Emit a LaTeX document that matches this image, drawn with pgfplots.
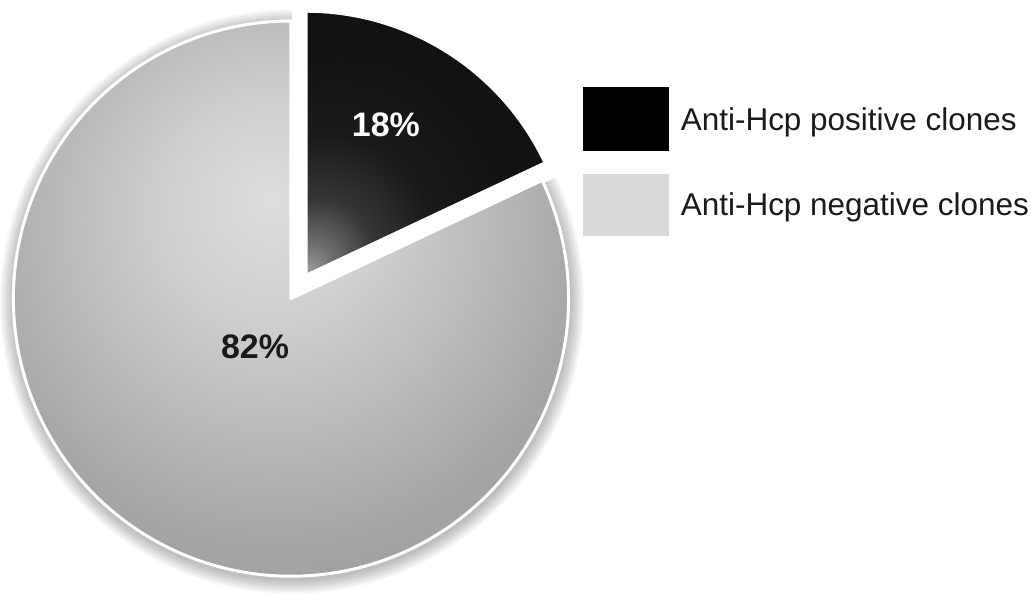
\documentclass[border=0pt]{standalone}
\usepackage{pgfplots}
\pgfplotsset{compat=1.18}
\usepackage{pgfplotstable}
\usepackage{fontspec}
\setmainfont{Liberation Sans}

% shares of screened clones (percent)
\pgfplotstableread{
group share
positive 18
negative 82
}\clonetable
\pgfplotstablegetelem{0}{share}\of\clonetable \let\shpos\pgfplotsretval
\pgfplotstablegetelem{1}{share}\of\clonetable \let\shneg\pgfplotsretval

% slice angles (counter-clockwise, degrees)
\pgfmathsetmacro\splitang{90-3.6*\shpos}
\pgfmathsetmacro\negend{90+3.6*\shneg}

% soft grey light for the large slice, dark glow at the tip of the small one
\pgfdeclareradialshading{negshade}{\pgfpoint{-2bp}{9bp}}{%
  rgb(0bp)=(0.87,0.87,0.87); rgb(10bp)=(0.81,0.81,0.81);
  rgb(18bp)=(0.74,0.74,0.74); rgb(28bp)=(0.65,0.65,0.65);
  rgb(38bp)=(0.60,0.60,0.60); rgb(90bp)=(0.60,0.60,0.60)}
\pgfdeclareradialshading{posshade}{\pgfpoint{-25bp}{-25bp}}{%
  rgb(0bp)=(0.64,0.64,0.64); rgb(5bp)=(0.43,0.43,0.43);
  rgb(12bp)=(0.21,0.21,0.21); rgb(22bp)=(0.10,0.10,0.10);
  rgb(35bp)=(0.07,0.07,0.07); rgb(120bp)=(0.06,0.06,0.06)}

\definecolor{neglegend}{HTML}{D9D9D9}
\definecolor{labeltext}{HTML}{1A1A1A}

% pie geometry
\def\ncx{290}\def\ncy{283}\def\nr{278}   % large slice
\def\pcx{305}\def\pcy{306}\def\pr{265}   % exploded small slice

\begin{document}
\begin{tikzpicture}
\begin{axis}[
  x=1pt, y=1pt,
  xmin=0, xmax=1031, ymin=0, ymax=582,
  hide axis, clip=false,
  legend style={
    at={(axis cs:582,495)}, anchor=north west,
    draw=none, fill=none, inner sep=0pt, outer sep=0pt,
    row sep=24pt, column sep=12pt,
    font=\fontsize{31.5}{36}\selectfont, text=labeltext,
    nodes={inner sep=0pt, anchor=base west},
  },
  legend cell align=left,
]
\path (rel axis cs:0,0) rectangle (rel axis cs:1,1);

% soft halo round the large slice
\pgfplotsinvokeforeach{1,...,8}{
  \addplot[forget plot, draw=none, fill=black, fill opacity=0.035,
    domain=90:\negend, samples=150, variable=\t]
    ({\ncx+1+(\nr+#1*1.8)*cos(\t)},{\ncy-3+(\nr+#1*1.8)*sin(\t)}) -- (\ncx+1,\ncy-3) -- cycle;
}

% large slice: negative clones
\addplot[forget plot, shade, shading=negshade, draw=white, line width=3pt,
  line join=round, domain=90:\negend, samples=200, variable=\t]
  ({\ncx+\nr*cos(\t)},{\ncy+\nr*sin(\t)}) -- (\ncx,\ncy) -- cycle;

% small slice: positive clones, pulled out
\addplot[forget plot, shade, shading=posshade, draw=white, line width=3.5pt,
  line join=round, domain=\splitang:90, samples=80, variable=\t]
  ({\pcx+\pr*cos(\t)},{\pcy+\pr*sin(\t)}) -- (\pcx,\pcy) -- cycle;

\node[font=\fontsize{34}{40}\selectfont\bfseries, text=white]
  at (axis cs:385,457) {18\%};
\node[font=\fontsize{34}{40}\selectfont\bfseries, text=labeltext]
  at (axis cs:254,235) {82\%};

\addlegendimage{legend image code/.code={\fill[black] (0pt,-20pt) rectangle (86pt,43pt);}}
\addlegendentry{Anti-Hcp positive clones}
\addlegendimage{legend image code/.code={\fill[neglegend] (0pt,-20pt) rectangle (86pt,41pt);}}
\addlegendentry{Anti-Hcp negative clones}
\end{axis}
\end{tikzpicture}
\end{document}
